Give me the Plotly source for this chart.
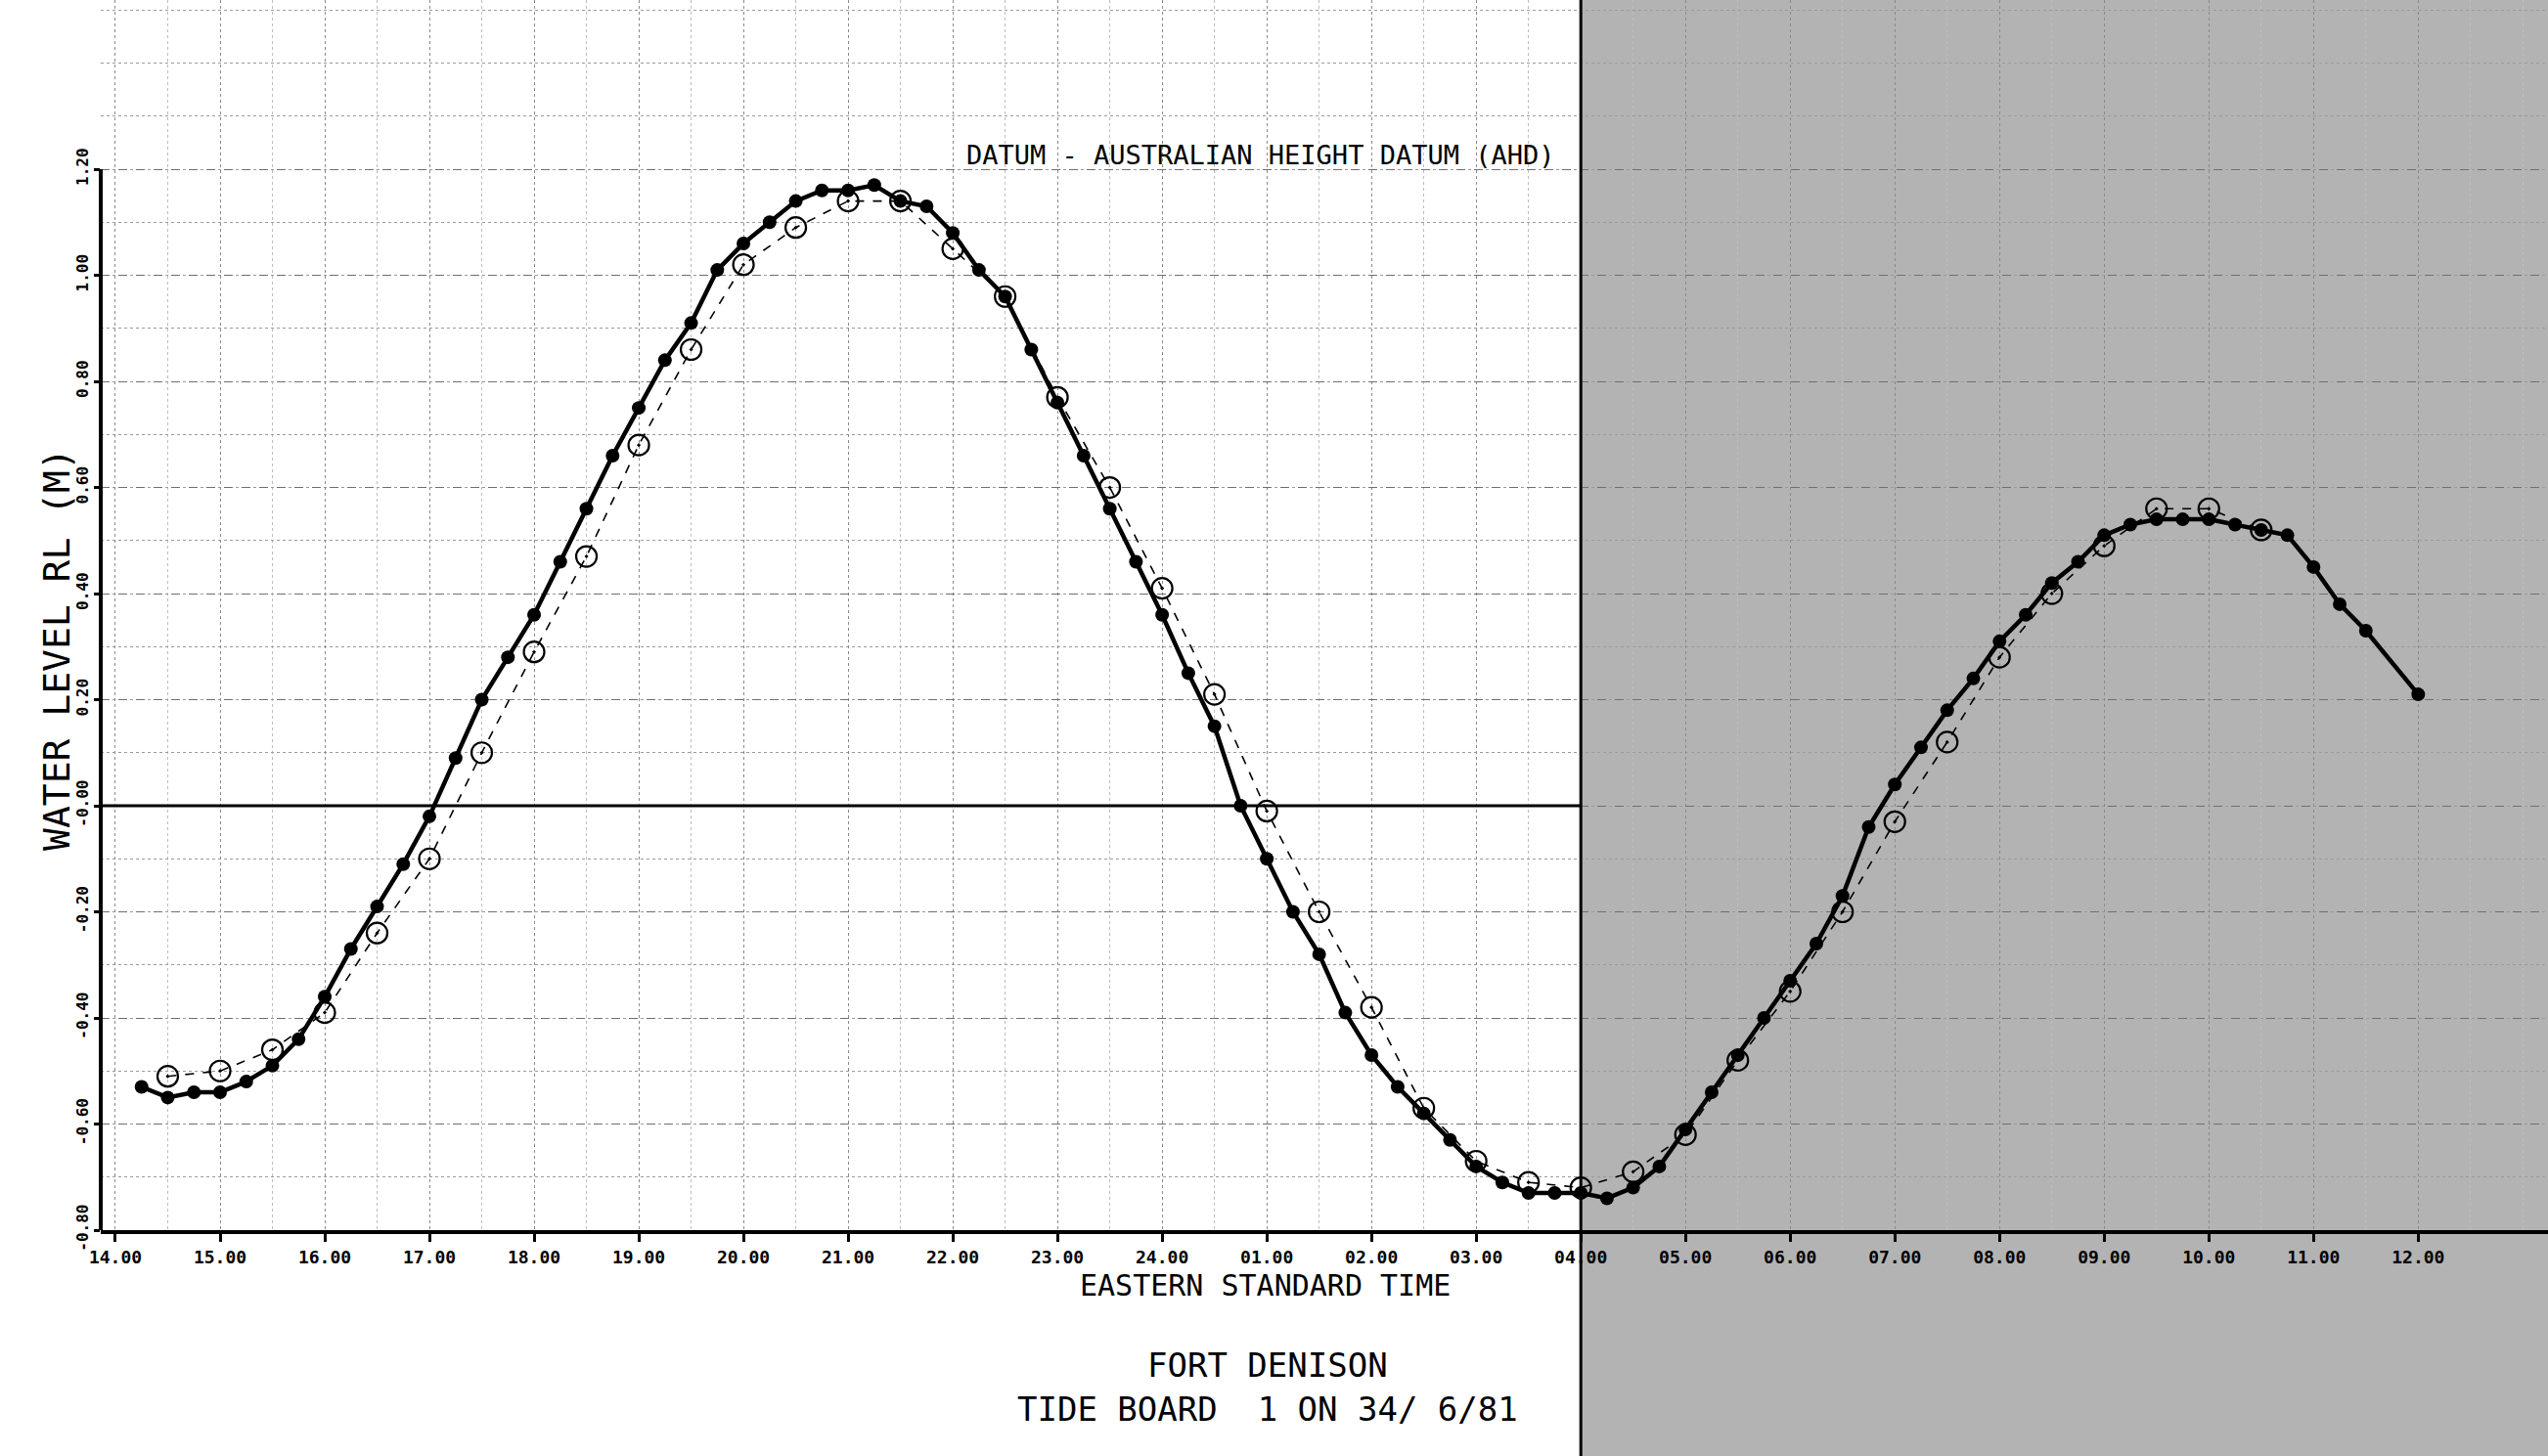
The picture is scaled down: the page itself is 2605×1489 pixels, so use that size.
import plotly.graph_objects as go

# ---------------- data ----------------
# hours after 14:00 (14.00 on 23 Jun -> 12.00 next day)
obs_hours = [0.25, 0.5, 0.75, 1.0, 1.25, 1.5, 1.75, 2.0, 2.25, 2.5, 2.75, 3.0, 3.25, 3.5, 3.75,
             4.0, 4.25, 4.5, 4.75, 5.0, 5.25, 5.5, 5.75, 6.0, 6.25, 6.5, 6.75, 7.0, 7.25, 7.5,
             7.75, 8.0, 8.25, 8.5, 8.75, 9.0, 9.25, 9.5, 9.75, 10.0, 10.25, 10.5, 10.75, 11.0,
             11.25, 11.5, 11.75, 12.0, 12.25, 12.5, 12.75, 13.0, 13.25, 13.5, 13.75, 14.0, 14.25,
             14.5, 14.75, 15.0, 15.25, 15.5, 15.75, 16.0, 16.25, 16.5, 16.75, 17.0, 17.25, 17.5,
             17.75, 18.0, 18.25, 18.5, 18.75, 19.0, 19.25, 19.5, 19.75, 20.0, 20.25, 20.5, 20.75,
             21.0, 21.25, 21.5, 22.0]
obs_level = [-0.53, -0.55, -0.54, -0.54, -0.52, -0.49, -0.44, -0.36, -0.27, -0.19, -0.11, -0.02,
             0.09, 0.20, 0.28, 0.36, 0.46, 0.56, 0.66, 0.75, 0.84, 0.91, 1.01, 1.06, 1.10, 1.14,
             1.16, 1.16, 1.17, 1.14, 1.13, 1.08, 1.01, 0.96, 0.86, 0.76, 0.66, 0.56, 0.46, 0.36,
             0.25, 0.15, 0.00, -0.10, -0.20, -0.28, -0.39, -0.47, -0.53, -0.58, -0.63, -0.68,
             -0.71, -0.73, -0.73, -0.73, -0.74, -0.72, -0.68, -0.61, -0.54, -0.47, -0.40, -0.33,
             -0.26, -0.17, -0.04, 0.04, 0.11, 0.18, 0.24, 0.31, 0.36, 0.42, 0.46, 0.51, 0.53,
             0.54, 0.54, 0.54, 0.53, 0.52, 0.51, 0.45, 0.38, 0.33, 0.21]

pred_hours = [0.5, 1.0, 1.5, 2.0, 2.5, 3.0, 3.5, 4.0, 4.5, 5.0, 5.5, 6.0, 6.5, 7.0, 7.5, 8.0,
              8.5, 9.0, 9.5, 10.0, 10.5, 11.0, 11.5, 12.0, 12.5, 13.0, 13.5, 14.0, 14.5, 15.0,
              15.5, 16.0, 16.5, 17.0, 17.5, 18.0, 18.5, 19.0, 19.5, 20.0, 20.5]
pred_level = [-0.51, -0.50, -0.46, -0.39, -0.24, -0.10, 0.10, 0.29, 0.47, 0.68, 0.86, 1.02,
              1.09, 1.14, 1.14, 1.05, 0.96, 0.77, 0.60, 0.41, 0.21, -0.01, -0.20, -0.38, -0.57,
              -0.67, -0.71, -0.72, -0.69, -0.62, -0.48, -0.35, -0.20, -0.03, 0.12, 0.28, 0.40,
              0.49, 0.56, 0.56, 0.52]

x_tickvals = list(range(0, 23))
x_ticktext = ["14.00", "15.00", "16.00", "17.00", "18.00", "19.00", "20.00", "21.00", "22.00",
              "23.00", "24.00", "01.00", "02.00", "03.00", "04.00", "05.00", "06.00", "07.00",
              "08.00", "09.00", "10.00", "11.00", "12.00"]
y_tickvals = [-0.8, -0.6, -0.4, -0.2, 0.0, 0.2, 0.4, 0.6, 0.8, 1.0, 1.2]
y_ticktext = ["-0.80", "-0.60", "-0.40", "-0.20", "-0.00", "0.20", "0.40", "0.60", "0.80",
              "1.00", "1.20"]

# ---------------- figure ----------------
W, H = 2605, 1489
ML, MB = 103, 231
X_MIN, X_MAX = -0.14, 23.24
Y_MIN, Y_MAX = -0.8, 1.519
MONO = "DejaVu Sans Mono"

fig = go.Figure()

fig.add_trace(go.Scatter(
    x=pred_hours, y=pred_level, mode="lines+markers", name="predicted",
    line=dict(color="black", width=1.6, dash="dash"),
    marker=dict(symbol="circle-open-dot", size=21, color="black", line=dict(width=2.2)),
))
fig.add_trace(go.Scatter(
    x=obs_hours, y=obs_level, mode="lines+markers", name="tide board",
    line=dict(color="black", width=4.5),
    marker=dict(symbol="circle", size=14, color="black"),
))

def px_x(X):
    return (X - ML) / (W - ML)

def px_y(Y):
    return (H - MB - Y) / (H - MB)

shapes = [
    # shaded (darker scanned) right part of the sheet
    dict(type="rect", xref="paper", yref="paper", x0=px_x(1616), x1=1.0,
         y0=px_y(H), y1=1.0, fillcolor="#b3b3b3", line=dict(width=0), layer="below"),
    # heavy vertical line at 04.00
    dict(type="line", xref="x", yref="paper", x0=14, x1=14, y0=px_y(H), y1=1.0,
         line=dict(color="black", width=3)),
    # heavy datum line at 0.00 (left part of sheet)
    dict(type="line", xref="paper", yref="y", x0=0, x1=px_x(1616), y0=0, y1=0,
         line=dict(color="black", width=3)),
    # y axis line (stops at 1.20)
    dict(type="line", xref="paper", yref="y", x0=0, x1=0, y0=Y_MIN, y1=1.2,
         line=dict(color="black", width=4)),
]
fig.update_layout(shapes=shapes)

fig.update_xaxes(
    range=[X_MIN, X_MAX], tickmode="array", tickvals=x_tickvals, ticktext=x_ticktext,
    showline=True, linecolor="black", linewidth=4, mirror=False,
    ticks="outside", ticklen=8, tickwidth=3, tickcolor="black",
    tickfont=dict(family=MONO, size=18, color="black", weight="bold"),
    showgrid=True, gridcolor="#8a8a8a", gridwidth=1, griddash="dot",
    minor=dict(dtick=0.5, tick0=0, showgrid=True, gridcolor="#bdbdbd", griddash="dot",
               gridwidth=1, ticks=""),
    zeroline=False,
)
fig.update_yaxes(
    range=[Y_MIN, Y_MAX], tickmode="array", tickvals=y_tickvals, ticktext=y_ticktext,
    showline=False, ticks="outside", ticklen=6, tickwidth=3, tickcolor="black",
    tickangle=-90,
    tickfont=dict(family=MONO, size=16, color="black", weight="bold"),
    showgrid=True, gridcolor="#6f6f6f", gridwidth=1, griddash="dash",
    minor=dict(dtick=0.1, tick0=0, showgrid=True, gridcolor="#9a9a9a", griddash="dot",
               gridwidth=1, ticks=""),
    zeroline=False,
)

ann = [
    dict(text="DATUM - AUSTRALIAN HEIGHT DATUM (AHD)", x=px_x(1288), y=px_y(158),
         font=dict(family=MONO, size=27, color="black")),
    dict(text="EASTERN STANDARD TIME", x=px_x(1293), y=px_y(1314),
         font=dict(family=MONO, size=30, color="black")),
    dict(text="FORT DENISON", x=px_x(1296), y=px_y(1396),
         font=dict(family=MONO, size=34, color="black")),
    dict(text="TIDE BOARD  1 ON 34/ 6/81", x=px_x(1296), y=px_y(1441),
         font=dict(family=MONO, size=34, color="black")),
    dict(text="WATER LEVEL RL (M)", x=px_x(58), y=px_y(664), textangle=-90,
         font=dict(family=MONO, size=38, color="black")),
]
for a in ann:
    a.update(xref="paper", yref="paper", showarrow=False, xanchor="center", yanchor="middle")
fig.update_layout(annotations=ann)

fig.update_layout(
    width=W, height=H,
    margin=dict(l=ML, r=0, t=0, b=MB, pad=0),
    paper_bgcolor="white", plot_bgcolor="rgba(0,0,0,0)",
    showlegend=False,
    font=dict(family=MONO, color="black"),
)

fig.write_html("out.html", config={"displayModeBar": False},
               post_script="document.body.style.margin='0';document.body.style.overflow='hidden';")
